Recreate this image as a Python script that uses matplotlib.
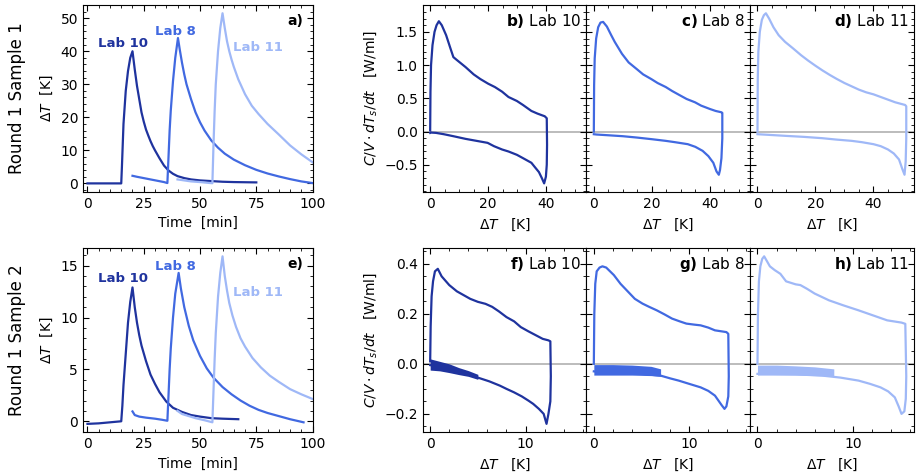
import matplotlib
matplotlib.use('Agg')
import matplotlib.pyplot as plt

# colours for the three labs
c_lab10 = '#1f339e'
c_lab8 = '#4169e1'
c_lab11 = '#9fb8f7'

# ---------- Round 1 Sample 1 : temperature rise over time ----------
s1_t10 = [0, 15, 15.3, 16, 17, 18, 19, 20, 21, 22, 23, 24, 25, 26, 27, 28, 29, 30, 32, 34, 36, 38, 40, 43, 46, 50, 55, 60, 65, 70, 75]
s1_v10 = [0, 0, 5, 18, 28, 34, 38, 40, 34.5, 29.5, 25.5, 21.5, 18.7, 16.3, 14.5, 12.8, 11.3, 10, 7.6, 5.4, 3.9, 2.9, 2.2, 1.6, 1.2, 0.9, 0.7, 0.5, 0.4, 0.35, 0.3]
s1_t8 = [20, 22, 25, 28, 31, 34, 35.5, 36, 36.5, 37, 38, 39, 40.2, 41, 42, 43, 44, 46, 48, 50, 52, 55, 58, 61, 65, 70, 75, 80, 85, 90, 95, 100]
s1_v8 = [2.3, 2.0, 1.6, 1.2, 0.8, 0.4, 0.1, 8, 16, 22, 31, 38, 44, 40.5, 36.5, 33, 30, 25.5, 21.5, 18.5, 16, 13, 10.8, 9, 7.2, 5.5, 4.1, 3.0, 2.1, 1.3, 0.6, 0.1]
s1_t11 = [40, 43, 46, 50, 53, 55.5, 56, 56.5, 57, 58, 59, 60, 61, 62, 63, 64, 65, 67, 70, 73, 76, 80, 85, 90, 95, 100]
s1_v11 = [1.2, 0.9, 0.6, 0.4, 0.2, 0.05, 12, 22, 30, 40, 47, 51.5, 47, 43, 40, 37.5, 35.3, 31.5, 27, 23.5, 21, 18, 14.8, 11.5, 8.8, 6.4]

# ---------- Round 1 Sample 2 ----------
s2_t10 = [0, 5, 10, 15, 15.5, 16, 17, 18, 19, 20, 21, 22, 23, 24, 26, 28, 30, 32, 35, 38, 42, 46, 50, 55, 60, 67]
s2_v10 = [-0.25, -0.2, -0.1, 0, 1.5, 3.5, 6.5, 9.5, 11.5, 12.9, 11, 9.5, 8.3, 7.3, 5.8, 4.5, 3.6, 2.8, 1.9, 1.3, 0.9, 0.6, 0.45, 0.3, 0.25, 0.2]
s2_t8 = [20, 21, 23, 26, 30, 33, 35.5, 36, 36.5, 37, 38, 39, 40.5, 41.5, 43, 45, 47, 50, 53, 56, 60, 64, 68, 72, 76, 80, 85, 90, 96]
s2_v8 = [0.95, 0.6, 0.45, 0.35, 0.25, 0.15, 0.05, 2.5, 5, 7, 10, 12.3, 14.3, 12.8, 11, 9.2, 7.8, 6.3, 5.1, 4.2, 3.3, 2.6, 2.0, 1.5, 1.1, 0.8, 0.5, 0.2, -0.1]
s2_t11 = [40, 42, 45, 48, 52, 55.5, 56, 56.5, 57, 58, 59, 60, 61, 62, 63, 64.4, 66, 68, 70, 73.3, 77, 81, 85, 90, 95, 100]
s2_v11 = [1.0, 0.7, 0.5, 0.3, 0.1, -0.1, 3, 6, 8.5, 12, 14.3, 15.9, 14, 12.6, 11.4, 10.2, 9.1, 8.0, 7.2, 6.1, 5.2, 4.4, 3.8, 3.1, 2.6, 2.15]

# ---------- heating/cooling loops, Round 1 Sample 1 ----------
b_dT = [0, 0.1, 0.3, 0.8, 1.5, 2.2, 3.0, 4.0, 5.5, 7.0, 8.0, 9.1, 12.2, 15, 17.3, 20, 22.3, 24.8, 27, 29.9, 32, 34.9, 37, 39.5, 40.2,
        40.3, 40.2, 39.9, 39.3, 38.5, 37.5, 36, 34.9, 32, 29.9, 27, 24.8, 22, 19.8, 16, 12.2, 8, 4.7, 2, 0.2, 0]
b_q = [0.02, 0.6, 1.0, 1.3, 1.5, 1.6, 1.66, 1.6, 1.45, 1.25, 1.12, 1.08, 0.97, 0.86, 0.79, 0.72, 0.67, 0.6, 0.52, 0.46, 0.4, 0.31, 0.27, 0.23, 0.2,
       -0.2, -0.5, -0.68, -0.78, -0.7, -0.61, -0.53, -0.47, -0.4, -0.35, -0.3, -0.27, -0.22, -0.17, -0.14, -0.11, -0.07, -0.04, -0.02, -0.015, -0.02]
c_dT = [0, 0.1, 0.3, 0.8, 1.5, 2.3, 3.2, 4.5, 6, 7.2, 9.7, 12, 14.8, 17, 19.8, 22, 24.8, 27, 29.9, 32, 34.9, 37, 40, 42, 44,
        44.3, 44.3, 44.0, 43.5, 43.1, 42.3, 41.2, 39.5, 37.5, 35, 32.4, 28, 24.8, 20, 14.8, 10, 4.7, 1, 0]
c_q = [0, 0.7, 1.1, 1.4, 1.57, 1.64, 1.65, 1.58, 1.45, 1.35, 1.17, 1.04, 0.94, 0.86, 0.79, 0.73, 0.67, 0.61, 0.54, 0.49, 0.44, 0.39, 0.34, 0.31, 0.29,
       0.28, -0.1, -0.4, -0.58, -0.65, -0.6, -0.47, -0.37, -0.29, -0.23, -0.19, -0.16, -0.14, -0.115, -0.09, -0.07, -0.055, -0.045, -0.04]
d_dT = [0, 0.1, 0.3, 0.8, 1.5, 2.2, 2.9, 4, 5.5, 7.3, 9.5, 12.3, 15, 17.4, 20, 22.4, 25, 27.4, 30, 32.5, 35, 37.5, 40, 42.5, 45, 47.5, 50.9,
        51.3, 51.3, 51.1, 50.7, 50, 48.8, 47, 45, 42.5, 40, 36, 32.5, 27, 22.4, 16, 9.8, 4, 0]
d_q = [0, 0.8, 1.2, 1.5, 1.68, 1.75, 1.78, 1.7, 1.57, 1.45, 1.35, 1.25, 1.15, 1.07, 0.99, 0.92, 0.85, 0.79, 0.73, 0.68, 0.63, 0.59, 0.56, 0.52, 0.48, 0.44, 0.40,
       0.38, -0.1, -0.45, -0.65, -0.57, -0.42, -0.33, -0.27, -0.22, -0.19, -0.16, -0.14, -0.12, -0.1, -0.08, -0.065, -0.05, -0.04]

# ---------- heating/cooling loops, Round 1 Sample 2 ----------
f_dT = [0, 0.05, 0.15, 0.3, 0.5, 0.8, 1.2, 2, 2.8, 3.5, 4.2, 5, 5.8, 6.5, 7.2, 8, 8.8, 9.5, 10.3, 11.1, 11.8, 12.4, 12.6,
        12.65, 12.6, 12.4, 12.2, 11.9, 11.4, 10.8, 10.3, 9.6, 8.8, 8, 7.3, 6.2, 5, 3.9, 2.8, 1.5, 0.5, 0]
f_q = [0.01, 0.15, 0.27, 0.33, 0.37, 0.38, 0.35, 0.315, 0.29, 0.275, 0.26, 0.248, 0.24, 0.228, 0.21, 0.187, 0.17, 0.147, 0.13, 0.114, 0.1, 0.094, 0.09,
       -0.05, -0.15, -0.2, -0.24, -0.2, -0.18, -0.16, -0.147, -0.13, -0.114, -0.1, -0.087, -0.07, -0.055, -0.042, -0.03, -0.018, -0.008, -0.005]
g_dT = [0, 0.05, 0.15, 0.3, 0.6, 0.9, 1.3, 2.1, 2.8, 3.6, 4.3, 5.1, 5.8, 6.6, 7.4, 8.2, 9, 9.7, 10.5, 11.2, 12, 12.7, 13.4, 13.9, 14.1,
        14.15, 14.1, 13.9, 13.7, 13.4, 12.7, 12, 11.2, 10, 8.9, 8, 7, 5, 3, 1, 0]
g_q = [0, 0.2, 0.32, 0.37, 0.385, 0.39, 0.385, 0.355, 0.32, 0.288, 0.26, 0.241, 0.228, 0.214, 0.198, 0.181, 0.17, 0.161, 0.157, 0.154, 0.145, 0.134, 0.13, 0.127, 0.12,
       -0.05, -0.13, -0.17, -0.18, -0.165, -0.127, -0.108, -0.094, -0.08, -0.067, -0.058, -0.047, -0.04, -0.035, -0.035, -0.03]
h_dT = [0, 0.05, 0.15, 0.3, 0.5, 0.7, 1.3, 1.8, 2.4, 3, 4, 4.5, 5.2, 6, 7.5, 9, 10.6, 12.1, 13.6, 15.1, 15.5,
        15.6, 15.55, 15.4, 15.1, 14.8, 14.4, 13.7, 12.9, 11.8, 10.6, 8.7, 6.8, 4, 1.5, 0]
h_q = [0, 0.2, 0.33, 0.39, 0.42, 0.43, 0.39, 0.375, 0.36, 0.33, 0.318, 0.315, 0.3, 0.281, 0.254, 0.234, 0.214, 0.194, 0.174, 0.165, 0.16,
       -0.05, -0.14, -0.19, -0.2, -0.17, -0.134, -0.11, -0.094, -0.08, -0.067, -0.055, -0.047, -0.042, -0.04, -0.04]

# noisy bands on the cooling branch (Sample 2)
f_band_dT = [0, 1, 2, 3, 4, 5]
f_band_lo = [-0.025, -0.028, -0.035, -0.043, -0.05, -0.062]
f_band_hi = [0.02, 0.01, 0.0, -0.015, -0.027, -0.042]
g_band_dT = [0, 2, 4, 6, 7]
g_band_lo = [-0.045, -0.045, -0.045, -0.047, -0.05]
g_band_hi = [-0.003, -0.003, -0.005, -0.01, -0.02]
h_band_dT = [0, 2, 4, 6, 8]
h_band_lo = [-0.045, -0.045, -0.045, -0.047, -0.05]
h_band_hi = [-0.005, -0.005, -0.008, -0.012, -0.02]

plt.rcParams['font.size'] = 10
plt.rcParams['mathtext.fontset'] = 'dejavusans'

fig = plt.figure(figsize=(9.22, 4.75), dpi=100)


def style(ax):
    ax.minorticks_on()
    ax.tick_params(which='both', direction='in', top=True, right=True)
    ax.tick_params(which='major', length=4.5)
    ax.tick_params(which='minor', length=2.2)


# ---- left column: time series ----
rows = [
    (0.596, 0.394, [(s1_t10, s1_v10, c_lab10), (s1_t8, s1_v8, c_lab8), (s1_t11, s1_v11, c_lab11)],
     'a)', 'Round 1 Sample 1', [(15.6, 42.4), (39, 46), (75.6, 41)]),
    (0.090, 0.388, [(s2_t10, s2_v10, c_lab10), (s2_t8, s2_v8, c_lab8), (s2_t11, s2_v11, c_lab11)],
     'e)', 'Round 1 Sample 2', [(15.6, 13.8), (39, 14.9), (75.6, 12.4)]),
]
lab_names = ['Lab 10', 'Lab 8', 'Lab 11']
lab_cols = [c_lab10, c_lab8, c_lab11]

for bottom, height, curves, tag, rowname, label_pos in rows:
    ax = fig.add_axes([0.090, bottom, 0.249, height])
    for t, v, col in curves:
        ax.plot(t, v, color=col, lw=1.6)
    ax.set_xlim(-2, 100)
    ax.set_xticks([0, 25, 50, 75, 100])
    style(ax)
    ax.set_xlabel('Time  [min]')
    ax.set_ylabel(r'$\Delta T$  [K]')
    ax.text(0.96, 0.95, tag, transform=ax.transAxes, ha='right', va='top', fontweight='bold')
    for (x, y), name, col in zip(label_pos, lab_names, lab_cols):
        ax.text(x, y, name, color=col, fontweight='bold', ha='center', va='center', fontsize=9.5)
    fig.text(0.018, bottom + height / 2, rowname, rotation=90, ha='center', va='center', fontsize=12)

# ---- right block: loops ----
loops = [
    (0.596, 0.394, [(b_dT, b_q, c_lab10, 'b'), (c_dT, c_q, c_lab8, 'c'), (d_dT, d_q, c_lab11, 'd')], None, 0.5),
    (0.090, 0.388, [(f_dT, f_q, c_lab10, 'f'), (g_dT, g_q, c_lab8, 'g'), (h_dT, h_q, c_lab11, 'h')],
     [(f_band_dT, f_band_lo, f_band_hi), (g_band_dT, g_band_lo, g_band_hi), (h_band_dT, h_band_lo, h_band_hi)], 0.2),
]
for bottom, height, panels, bands, ystep in loops:
    first = None
    for i, (x, y, col, tag) in enumerate(panels):
        ax = fig.add_axes([0.4585 + i * 0.1775, bottom, 0.1775, height], sharex=first, sharey=first)
        if first is None:
            first = ax
        ax.axhline(0, color='#b0b0b0', lw=1.2, zorder=1)
        ax.plot(x, y, color=col, lw=1.6, zorder=2)
        if bands is not None:
            bx, blo, bhi = bands[i]
            ax.fill_between(bx, blo, bhi, color=col, lw=0, zorder=2)
        style(ax)
        ax.yaxis.set_major_locator(plt.MultipleLocator(ystep))
        ax.set_xlabel(r'$\Delta T$   [K]')
        ax.text(0.97, 0.96, r'$\mathbf{' + tag + ')}$ Lab ' + lab_names[i].split()[1],
                transform=ax.transAxes, ha='right', va='top', fontsize=11)
        if i == 0:
            ax.set_ylabel(r'$C/V \cdot dT_s/dt$   [W/ml]')
        else:
            ax.tick_params(labelleft=False)

fig.savefig('out.png', dpi=100)
